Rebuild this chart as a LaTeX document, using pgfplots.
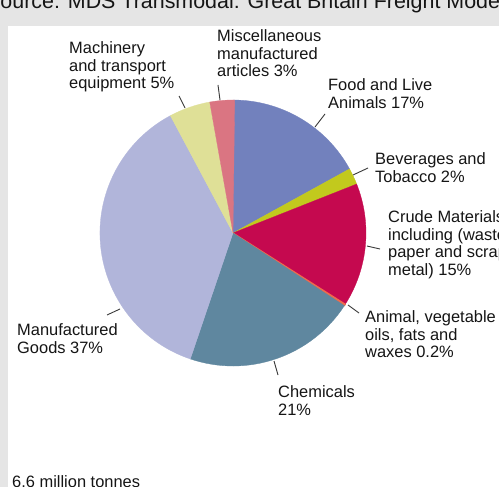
\documentclass[border=0pt]{standalone}
\usepackage{pgfplots}
\usepackage{pgfplotstable}
\pgfplotsset{compat=1.18}
\usepackage{fontspec}
\setmainfont{Liberation Sans}
\definecolor{cfood}{HTML}{7281BD}
\definecolor{cbev}{HTML}{C2C91D}
\definecolor{ccrude}{HTML}{C5094F}
\definecolor{coil}{HTML}{EE6A4C}
\definecolor{cchem}{HTML}{5F879F}
\definecolor{cmanu}{HTML}{B1B5DA}
\definecolor{cmach}{HTML}{DFE097}
\definecolor{cmisc}{HTML}{DA7582}
\definecolor{bggray}{HTML}{E5E5E5}
\definecolor{txt}{HTML}{151515}
\definecolor{lead}{HTML}{3A3A3A}
\tikzset{lbl/.style={anchor=north west, inner sep=0pt, align=left, text=txt,
    font=\fontsize{16.5}{18}\selectfont}}
% value, colour, outline width of each slice (the tiny slice gets a wider outline so it shows)
\pgfplotstableread{
value color ow
17 cfood 0.3
2 cbev 0.3
15 ccrude 0.3
0.2 coil 1.2
21 cchem 0.3
37 cmanu 0.3
5 cmach 0.3
3 cmisc 0.3
}\piedata
\begin{document}
\begin{tikzpicture}
\begin{axis}[
  at={(0,0)}, anchor=south west,
  scale only axis, width=499bp, height=487bp,
  xmin=0, xmax=499, ymin=0, ymax=487, y dir=reverse,
  hide axis, clip=false,
]
\fill[bggray] (axis cs:-5,-5) rectangle (axis cs:505,492);
\fill[white] (axis cs:8,26) rectangle (axis cs:505,492);
\node[anchor=base west, inner sep=0pt, text=txt, font=\fontsize{21.5}{24}\selectfont]
  at (axis cs:-14,9) {Source: MDS Transmodal: Great Britain Freight Model};
\def\cum{0}
\pgfplotsforeachungrouped \i in {0,...,7}{%
  \pgfplotstablegetelem{\i}{value}\of\piedata \let\v\pgfplotsretval
  \pgfplotstablegetelem{\i}{color}\of\piedata \let\c\pgfplotsretval
  \pgfplotstablegetelem{\i}{ow}\of\piedata \let\w\pgfplotsretval
  \pgfmathsetmacro\a{90-3.6*\cum}%
  \pgfmathsetmacro\b{90-3.6*(\cum+\v)}%
  \edef\cmd{\noexpand\filldraw[fill=\c, draw=\c, line width=\w bp, line join=round] (axis cs:233,233) -- ++(\a:133bp) arc[start angle=\a, end angle=\b, radius=133bp] -- cycle;}%
  \cmd
  \pgfmathsetmacro\cum{\cum+\v}%
}
% leader lines
\draw[lead, line width=0.9bp] (axis cs:179,96) -- (axis cs:185,108);
\draw[lead, line width=0.9bp] (axis cs:218,85) -- (axis cs:220,100);
\draw[lead, line width=0.9bp] (axis cs:325,114) -- (axis cs:315,127);
\draw[lead, line width=0.9bp] (axis cs:368,168) -- (axis cs:353,175);
\draw[lead, line width=0.9bp] (axis cs:367,246) -- (axis cs:380,249);
\draw[lead, line width=0.9bp] (axis cs:348,305) -- (axis cs:359,313);
\draw[lead, line width=0.9bp] (axis cs:274,361) -- (axis cs:278,375);
\draw[lead, line width=0.9bp] (axis cs:107,315) -- (axis cs:120,309);
% labels
\node[lbl] at (axis cs:69,41) {Machinery\\and transport\\equipment 5\%};
\node[lbl] at (axis cs:217,29) {Miscellaneous\\manufactured\\articles 3\%};
\node[lbl] at (axis cs:328,78) {Food and Live\\Animals 17\%};
\node[lbl] at (axis cs:375,152) {Beverages and\\Tobacco 2\%};
\node[lbl] at (axis cs:388,210) {Crude Materials\\including (waste\\paper and scrap\\metal) 15\%};
\node[lbl] at (axis cs:365,310) {Animal, vegetable\\oils, fats and\\waxes 0.2\%};
\node[lbl] at (axis cs:278,385) {Chemicals\\21\%};
\node[lbl] at (axis cs:17,323) {Manufactured\\Goods 37\%};
\node[lbl] at (axis cs:12,475) {6.6 million tonnes};
\end{axis}
\pgfresetboundingbox
\path[use as bounding box] (0,0) rectangle (499bp,487bp);
\end{tikzpicture}
\end{document}
